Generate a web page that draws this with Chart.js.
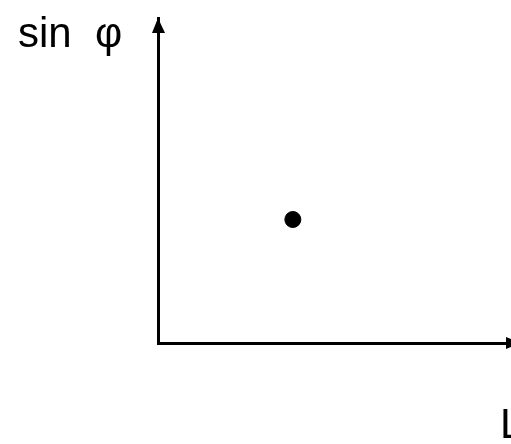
<!DOCTYPE html>
<html>
<head>
<meta charset="utf-8">
<title>sin φ vs L</title>
<script src="https://cdn.jsdelivr.net/npm/chart.js@4/dist/chart.umd.min.js"></script>
<style>
  html, body { margin: 0; padding: 0; background: #fff; }
  #wrap { width: 511px; height: 444px; }
</style>
</head>
<body>
<div id="wrap"><canvas id="chart"></canvas></div>
<script>
'use strict';

// Measured point (L, sin φ) on normalised axes
const pointL = [0.382];
const pointSin = [0.38];
const axisLabels = { x: 'L', y: 'sin  φ' };

/* --- Axis arrows and labels --- */
const axisArrows = {
  id: 'axisArrows',
  afterDraw(chart) {
    const { ctx, chartArea: a } = chart;
    ctx.save();
    ctx.fillStyle = '#000';

    // y arrowhead (tip at top of chart area)
    ctx.beginPath();
    ctx.moveTo(a.left, a.top);
    ctx.lineTo(a.left - 6, a.top + 15);
    ctx.lineTo(a.left + 7, a.top + 15);
    ctx.closePath();
    ctx.fill();

    // x arrowhead, runs off the right edge
    ctx.beginPath();
    ctx.moveTo(a.right + 10, a.bottom);
    ctx.lineTo(a.right - 5, a.bottom - 6);
    ctx.lineTo(a.right - 5, a.bottom + 6);
    ctx.closePath();
    ctx.fill();

    ctx.font = '42px "Liberation Sans", Arial, sans-serif';
    ctx.textBaseline = 'alphabetic';
    ctx.textAlign = 'left';
    ctx.fillText(axisLabels.y, 18, 47);
    ctx.fillText(axisLabels.x, 500, 438);
    ctx.restore();
  }
};

const hiddenScale = {
  min: 0, max: 1,
  grid: { display: false, drawTicks: false, tickLength: 0 },
  ticks: { display: false, padding: 0 },
  border: { display: true, color: '#000', width: 3 }
};

const ctx = document.getElementById('chart').getContext('2d');
new Chart(ctx, {
  type: 'scatter',
  data: {
    datasets: [{
      data: pointL.map((x, i) => ({ x, y: pointSin[i] })),
      backgroundColor: '#000',
      borderColor: '#000',
      pointRadius: 8,
      pointHoverRadius: 8
    }]
  },
  options: {
    responsive: true,
    maintainAspectRatio: false,
    animation: false,
    events: [],
    layout: { autoPadding: false, padding: { left: 158, top: 18, right: 0, bottom: 101 } },
    plugins: { legend: { display: false }, tooltip: { enabled: false } },
    scales: {
      x: { ...hiddenScale },
      y: { ...hiddenScale }
    }
  },
  plugins: [axisArrows]
});
</script>
</body>
</html>
